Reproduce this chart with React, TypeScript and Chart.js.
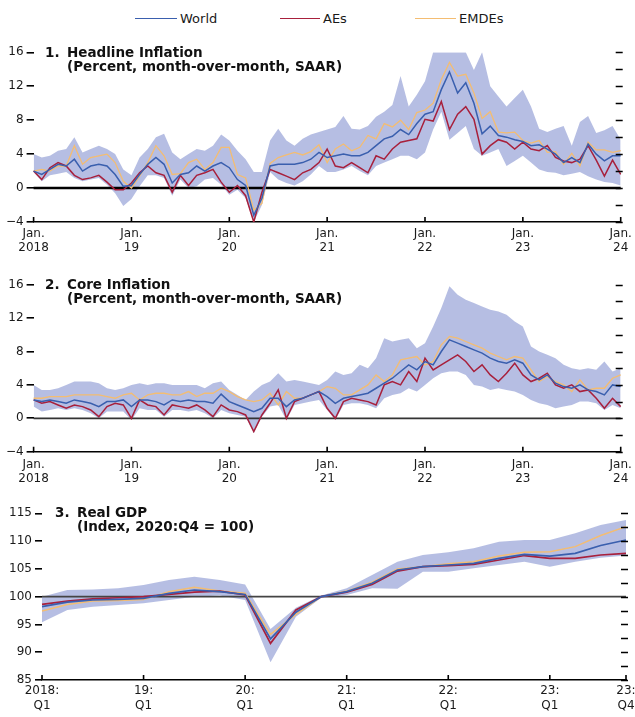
import React, { useEffect, useRef } from "react";
import { Chart, registerables } from "chart.js";
Chart.register(...registerables);

const FONT = "'DejaVu Sans', 'Liberation Sans', sans-serif";
const WORLD_COLOR = "#3a5fae";
const AES_COLOR = "#a8203c";
const EMDES_COLOR = "#f4bd72";
const BAND_COLOR = "rgba(110,125,200,0.5)";

// ---------- categories ----------
const YEARS = [2018, 2019, 2020, 2021, 2022, 2023];
const MONTH_NAMES = ["Jan", "Feb", "Mar", "Apr", "May", "Jun", "Jul", "Aug", "Sep", "Oct", "Nov", "Dec"];
const MONTHS: string[] = [...YEARS.flatMap((y) => MONTH_NAMES.map((m) => `${m} ${y}`)), "Jan 2024"];
const QUARTERS: string[] = YEARS.flatMap((y) => ["Q1", "Q2", "Q3", "Q4"].map((q) => `${y} ${q}`));

// tick labels
const MONTH_TICK_INDEX = [0, 12, 24, 36, 48, 60, 72];
const MONTH_TICK_TEXT = [["Jan.", "2018"], ["Jan.", "19"], ["Jan.", "20"], ["Jan.", "21"], ["Jan.", "22"], ["Jan.", "23"], ["Jan.", "24"]];
const QTR_TICK_INDEX = [0, 4, 8, 12, 16, 20, 23];
const QTR_TICK_TEXT = [["2018:", "Q1"], ["19:", "Q1"], ["20:", "Q1"], ["21:", "Q1"], ["22:", "Q1"], ["23:", "Q1"], ["23:", "Q4"]];

// ---------- 1. Headline inflation (monthly, Jan 2018 - Jan 2024) ----------
const HEADLINE_WORLD = [
  2.0, 1.6, 2.2, 2.8, 2.6, 3.4, 2.0, 2.6, 2.8, 2.6, 1.6, 0.2,
  0.3, 1.6, 2.8, 3.6, 2.8, 0.6, 1.6, 1.8, 2.6, 2.0, 2.6, 3.0,
  2.4, 1.0, 0.3, -3.2, -1.2, 2.6, 2.8, 2.8, 2.8, 3.0, 3.4, 4.2,
  3.6, 3.8, 4.0, 3.8, 3.8, 4.2, 5.0, 5.8, 6.1, 6.9, 6.3, 7.6,
  8.7, 9.0, 11.6, 13.7, 11.2, 12.4, 10.0, 6.4, 7.3, 6.2, 6.0, 5.7,
  5.5, 5.0, 5.1, 4.6, 4.0, 3.0, 3.6, 3.0, 5.2, 4.0, 3.2, 3.8,
  3.8,
];
const HEADLINE_AES = [
  2.0, 1.0, 2.4, 3.0, 2.6, 1.5, 1.0, 1.2, 1.5, 0.7, -0.2, -0.2,
  0.6, 1.8, 2.6, 1.8, 1.5, -0.5, 1.5, 0.3, 1.5, 1.8, 2.2, 0.7,
  -0.5, 0.3, -0.9, -4.0, -0.5, 2.2, 1.8, 1.4, 1.0, 1.8, 2.2, 3.0,
  4.6, 2.6, 2.4, 3.0, 2.4, 1.8, 3.8, 3.4, 4.6, 5.4, 5.6, 5.8,
  8.1, 7.9, 10.2, 6.9, 8.7, 9.6, 8.1, 4.0, 5.0, 5.7, 5.4, 4.6,
  5.4, 4.6, 4.4, 5.0, 3.6, 3.2, 3.0, 3.4, 5.0, 3.3, 1.4, 3.3,
  1.6,
];
const HEADLINE_EMDES = [
  2.0, 2.2, 2.0, 2.6, 2.6, 5.0, 2.8, 3.6, 3.8, 4.0, 3.0, 0.8,
  0.0, 1.4, 3.0, 5.0, 3.8, 1.6, 1.7, 3.0, 3.4, 2.2, 3.0, 4.8,
  4.8, 1.6, 1.2, -2.6, -1.8, 2.9, 3.6, 3.9, 4.2, 3.9, 4.3, 5.1,
  3.0, 4.6, 5.2, 4.4, 4.8, 6.2, 5.8, 7.6, 7.2, 8.0, 6.9, 8.9,
  9.2, 10.0, 12.8, 14.8, 13.2, 13.4, 11.2, 8.2, 9.0, 6.6, 6.5, 6.6,
  5.6, 5.3, 5.6, 4.2, 4.3, 2.8, 4.1, 2.6, 5.4, 4.5, 4.5, 4.2,
  4.4,
];
const HEADLINE_HIGH = [
  4.0, 3.6, 3.8, 4.4, 4.6, 6.0, 4.2, 4.6, 5.0, 4.6, 4.0, 2.2,
  1.5, 3.6, 4.6, 6.0, 6.4, 4.2, 3.4, 4.0, 4.6, 4.4, 5.0, 6.3,
  5.6, 4.4, 3.4, 1.9, 1.9, 5.6, 7.0, 5.6, 5.0, 5.8, 6.3, 6.6,
  6.9, 7.2, 8.5, 7.0, 6.9, 7.3, 8.4, 9.0, 9.8, 13.2, 9.6, 11.0,
  12.6, 16, 16, 16, 16, 16, 13.9, 16, 12.0, 10.8, 9.6, 10.6,
  11.6, 9.6, 7.0, 6.6, 7.0, 7.3, 5.0, 7.8, 8.5, 6.5, 6.8, 7.3,
  5.7,
];
const HEADLINE_LOW = [
  1.9, 0.8, 1.5, 1.7, 1.9, 1.2, 0.8, 1.0, 1.2, 0.4, -0.6, -2.1,
  -1.3, 0.2, 1.5, 1.5, 1.2, -0.9, 1.0, 0.0, 0.2, 1.0, 1.2, 0.4,
  -0.8, -0.2, -1.2, -4.0, -2.0, 1.9, 1.0, 0.6, 0.3, 0.8, 1.6, 2.6,
  1.9, 1.9, 2.2, 2.6, 2.0, 1.5, 2.6, 3.0, 3.4, 3.8, 3.8, 3.4,
  4.2, 6.9, 9.0, 5.7, 6.5, 7.3, 4.6, 3.8, 4.2, 4.6, 2.6, 3.2,
  3.8, 3.0, 2.2, 1.9, 1.8, 1.5, 1.7, 1.9, 1.4, 1.0, 0.7, 0.6,
  0.3,
];

// ---------- 2. Core inflation ----------
const CORE_WORLD = [
  2.2, 2.0, 2.2, 2.0, 1.8, 2.2, 2.0, 1.8, 1.4, 2.0, 2.0, 2.2,
  1.4, 2.2, 2.2, 2.0, 1.6, 2.2, 2.0, 2.2, 2.0, 2.0, 1.8, 2.9,
  2.0, 1.6, 1.2, 0.8, 1.2, 2.4, 2.4, 1.4, 2.2, 2.4, 2.8, 3.2,
  2.6, 1.8, 2.4, 2.6, 2.8, 3.0, 3.6, 4.2, 4.8, 5.6, 6.4, 5.8,
  6.8, 6.4, 8.0, 9.4, 9.0, 8.6, 8.2, 7.8, 7.2, 6.8, 6.6, 7.0,
  6.6, 5.2, 4.6, 5.2, 4.2, 3.8, 3.6, 4.0, 3.4, 3.2, 2.8, 4.0,
  3.8,
];
const CORE_AES = [
  2.2, 1.8, 2.0, 1.6, 1.2, 1.6, 1.4, 1.0, 0.2, 1.4, 1.8, 1.6,
  0.0, 2.2, 1.6, 1.4, 0.4, 1.6, 1.4, 1.2, 1.6, 1.0, 0.2, 1.6,
  1.0, 0.8, 0.4, -1.6, 0.4, 1.8, 3.4, 0.0, 2.0, 2.4, 2.8, 3.2,
  1.2, 0.0, 2.0, 2.4, 2.2, 2.0, 1.6, 4.0, 4.4, 4.0, 5.6, 4.4,
  7.2, 5.8, 6.4, 7.0, 7.6, 6.8, 5.6, 6.4, 5.2, 4.4, 5.4, 6.6,
  5.2, 4.4, 4.8, 5.4, 4.0, 3.6, 4.0, 3.2, 3.4, 2.4, 1.2, 2.4,
  1.4,
];
const CORE_EMDES = [
  2.4, 2.4, 2.6, 2.6, 2.6, 2.8, 2.8, 2.8, 2.8, 2.6, 2.4, 2.8,
  3.0, 2.2, 2.8, 3.0, 3.0, 2.8, 2.8, 3.2, 2.6, 3.0, 3.0, 3.6,
  3.2, 2.6, 2.2, 2.0, 2.2, 3.0, 1.6, 3.2, 2.4, 2.4, 2.8, 3.2,
  3.8, 3.6, 2.8, 2.8, 3.4, 4.0, 5.2, 4.4, 5.2, 7.0, 7.2, 7.4,
  6.4, 6.8, 8.8, 9.8, 9.6, 9.2, 8.8, 8.4, 7.8, 7.4, 7.0, 7.4,
  7.2, 5.8, 4.4, 5.0, 4.4, 4.0, 3.2, 4.6, 3.4, 3.6, 3.6, 4.8,
  5.2,
];
const CORE_HIGH = [
  4.0, 3.4, 3.4, 3.6, 4.0, 4.4, 4.4, 4.4, 4.2, 3.6, 3.4, 3.6,
  4.0, 4.2, 4.0, 4.2, 4.2, 4.0, 4.0, 4.0, 4.0, 3.6, 4.2, 4.4,
  3.4, 2.8, 2.2, 3.2, 4.0, 4.4, 5.4, 4.4, 4.6, 4.4, 4.2, 4.0,
  4.6, 5.6, 5.2, 5.4, 6.4, 6.0, 7.2, 9.6, 9.2, 9.4, 9.6, 8.4,
  9.0, 11.0, 13.2, 15.8, 14.8, 14.2, 13.8, 13.4, 13.0, 12.8, 12.4, 11.6,
  11.0, 8.6, 8.0, 7.6, 7.2, 6.4, 6.0, 5.8, 6.0, 5.8, 6.8, 5.6,
  6.0,
];
const CORE_LOW = [
  1.4, 0.8, 1.0, 1.2, 1.0, 1.2, 1.0, 0.6, 0.0, 0.8, 0.8, 0.8,
  -0.2, 1.2, 1.0, 1.0, 0.2, 1.0, 1.0, 0.8, 1.0, 0.6, 0.0, 1.0,
  0.6, 0.4, 0.2, -1.8, 0.2, 1.4, 1.6, -0.2, 1.6, 1.8, 2.0, 2.2,
  1.0, -0.2, 1.6, 1.8, 1.8, 1.6, 1.2, 2.4, 2.8, 3.0, 3.6, 3.2,
  4.0, 4.8, 5.4, 5.6, 5.6, 5.2, 4.0, 3.8, 3.4, 3.6, 3.4, 3.2,
  2.8, 2.2, 1.8, 1.6, 1.2, 1.4, 1.6, 2.0, 2.0, 1.8, 1.0, 1.6,
  1.2,
];

// ---------- 3. Real GDP (quarterly, 2018:Q1 - 2023:Q4) ----------
const GDP_WORLD = [98.2, 99.0, 99.4, 99.5, 99.7, 100.6, 101.2, 100.9, 100.4, 92.4, 97.2, 100.0, 100.9, 102.4, 104.8, 105.4, 105.7, 106.0, 106.9, 107.6, 107.3, 107.8, 109.2, 110.2];
const GDP_AES = [98.6, 99.2, 99.6, 99.8, 100.0, 100.4, 100.8, 101.0, 100.3, 91.6, 97.6, 100.0, 100.8, 102.2, 104.6, 105.4, 105.6, 105.8, 106.6, 107.4, 106.9, 106.9, 107.5, 107.8];
const GDP_EMDES = [97.4, 98.6, 99.2, 99.3, 99.5, 100.9, 101.7, 101.0, 100.6, 93.2, 96.8, 100.0, 101.0, 102.6, 105.0, 105.4, 105.9, 106.3, 107.3, 108.0, 108.1, 109.0, 111.0, 112.6];
const GDP_HIGH = [100.0, 101.2, 101.3, 101.5, 102.1, 103.0, 103.6, 103.0, 102.2, 94.2, 98.0, 100.2, 101.5, 103.9, 106.3, 107.5, 108.0, 108.7, 109.9, 110.2, 110.2, 111.4, 112.9, 113.8];
const GDP_LOW = [95.4, 97.6, 98.2, 98.5, 98.8, 99.4, 100.0, 100.2, 99.4, 88.2, 96.4, 99.8, 100.3, 101.5, 101.4, 104.5, 104.5, 105.1, 105.7, 106.3, 105.4, 106.3, 107.0, 107.4];

type PanelSpec = {
  labels: string[];
  world: number[];
  aes: number[];
  emdes: number[];
  high: number[];
  low: number[];
  yMin: number;
  yMax: number;
  yStep: number;
  labelEvery: number;
  tickIdx: number[];
  tickText: string[][];
  padTop: number;
  axisH: number;
  leftW: number;
  rightPad: number;
  labelPad: number;
  lineHeight: number;
  refValue: number;
  refWidth: number;
  refColor: string;
  lineWidth: number;
};

function makeConfig(p: PanelSpec): any {
  const decor = {
    id: "decor",
    afterDatasetDraw(chart: any, args: any) {
      if (args.index !== 3) return;
      const { ctx, chartArea } = chart;
      const y = chart.scales.y.getPixelForValue(p.refValue);
      ctx.save();
      ctx.strokeStyle = p.refColor;
      ctx.lineWidth = p.refWidth;
      ctx.beginPath();
      ctx.moveTo(chartArea.left, y);
      ctx.lineTo(chartArea.right, y);
      ctx.stroke();
      ctx.restore();
    },
    afterDraw(chart: any) {
      const { ctx, chartArea } = chart;
      const xs = chart.scales.x;
      const ys = chart.scales.y;
      ctx.save();
      ctx.strokeStyle = "#000";
      ctx.lineWidth = 1.6;
      ctx.beginPath();
      p.tickIdx.forEach((i) => {
        const x = xs.getPixelForValue(i);
        ctx.moveTo(x, chartArea.bottom);
        ctx.lineTo(x, chartArea.bottom - 5);
      });
      for (let v = p.yMin; v <= p.yMax + 1e-9; v += p.yStep) {
        const y = Math.round(ys.getPixelForValue(v)) + 0.5;
        ctx.moveTo(chartArea.right - 5, y);
        ctx.lineTo(chartArea.right + 2, y);
      }
      ctx.stroke();
      ctx.restore();
    },
  };

  const line = (label: string, data: number[], color: string, order: number, width: number) => ({
    label,
    data,
    borderColor: color,
    borderWidth: width,
    pointRadius: 0,
    fill: false,
    tension: 0,
    order,
  });

  return {
    type: "line",
    data: {
      labels: p.labels,
      datasets: [
        line("World", p.world, WORLD_COLOR, 0, p.lineWidth),
        line("AEs", p.aes, AES_COLOR, 1, p.lineWidth),
        line("EMDEs", p.emdes, EMDES_COLOR, 2, p.lineWidth - 0.2),
        { label: "Range high", data: p.high, borderWidth: 0, pointRadius: 0, fill: "+1", backgroundColor: BAND_COLOR, order: 3 },
        { label: "Range low", data: p.low, borderWidth: 0, pointRadius: 0, fill: false, order: 4 },
      ],
    },
    options: {
      responsive: false,
      animation: false,
      events: [],
      layout: { padding: { top: p.padTop, right: p.rightPad, left: 0, bottom: 0 } },
      plugins: { legend: { display: false }, tooltip: { enabled: false }, title: { display: false } },
      scales: {
        x: {
          type: "category",
          offset: false,
          grid: { display: false, drawTicks: false },
          border: { display: true, color: "#000", width: 1.6 },
          ticks: {
            autoSkip: false,
            maxRotation: 0,
            minRotation: 0,
            padding: p.labelPad,
            color: "#1a1a1a",
            font: { family: FONT, size: 12, lineHeight: p.lineHeight },
            callback: (_v: any, i: number) => {
              const k = p.tickIdx.indexOf(i);
              return k >= 0 ? p.tickText[k] : "";
            },
          },
          afterFit: (s: any) => {
            s.height = p.axisH;
            s.paddingLeft = 0;
            s.paddingRight = 0;
          },
        },
        y: {
          position: "left",
          min: p.yMin,
          max: p.yMax,
          grid: { display: true, drawOnChartArea: false, drawTicks: true, tickLength: 7, color: "#000", lineWidth: 1.6 },
          border: { display: false },
          ticks: {
            stepSize: p.yStep,
            padding: 3,
            color: "#1a1a1a",
            font: { family: FONT, size: 12 },
            callback: (v: number) => {
              const r = Math.round(v * 10) / 10;
              if (Math.abs(r % p.labelEvery) > 1e-6) return "";
              return r < 0 ? "\u2212" + Math.abs(r) : String(r);
            },
          },
          afterFit: (s: any) => {
            s.width = p.leftW;
            s.paddingTop = 0;
            s.paddingBottom = 0;
          },
        },
      },
    },
    plugins: [decor],
  };
}

const PANEL1: PanelSpec = {
  labels: MONTHS, world: HEADLINE_WORLD, aes: HEADLINE_AES, emdes: HEADLINE_EMDES, high: HEADLINE_HIGH, low: HEADLINE_LOW,
  yMin: -4, yMax: 16, yStep: 2, labelEvery: 4, tickIdx: MONTH_TICK_INDEX, tickText: MONTH_TICK_TEXT,
  padTop: 24.3, axisH: 36, leftW: 33.6, rightPad: 14.3, labelPad: 5, lineHeight: 1.15,
  refValue: 0, refWidth: 2.6, refColor: "#000", lineWidth: 1.5,
};
const PANEL2: PanelSpec = {
  labels: MONTHS, world: CORE_WORLD, aes: CORE_AES, emdes: CORE_EMDES, high: CORE_HIGH, low: CORE_LOW,
  yMin: -4, yMax: 16, yStep: 2, labelEvery: 4, tickIdx: MONTH_TICK_INDEX, tickText: MONTH_TICK_TEXT,
  padTop: 26.7, axisH: 36.3, leftW: 33.6, rightPad: 14.3, labelPad: 6, lineHeight: 1.15,
  refValue: 0, refWidth: 1.8, refColor: "#333", lineWidth: 1.5,
};
const PANEL3: PanelSpec = {
  labels: QUARTERS, world: GDP_WORLD, aes: GDP_AES, emdes: GDP_EMDES, high: GDP_HIGH, low: GDP_LOW,
  yMin: 85, yMax: 115, yStep: 2.5, labelEvery: 5, tickIdx: QTR_TICK_INDEX, tickText: QTR_TICK_TEXT,
  padTop: 25.3, axisH: 37, leftW: 42, rightPad: 9, labelPad: 3, lineHeight: 1.25,
  refValue: 100, refWidth: 1.6, refColor: "#444", lineWidth: 1.7,
};

function Panel({ top, height, spec }: { top: number; height: number; spec: PanelSpec }) {
  const ref = useRef<HTMLCanvasElement>(null);
  useEffect(() => {
    const chart = new Chart(ref.current as HTMLCanvasElement, makeConfig(spec));
    return () => chart.destroy();
  }, [spec]);
  return (
    <div style={{ position: "absolute", left: 0, top, width: 635, height }}>
      <canvas ref={ref} width={635} height={height} style={{ display: "block" }} />
    </div>
  );
}

const titleStyle: React.CSSProperties = {
  position: "absolute",
  fontFamily: FONT,
  fontWeight: "bold",
  fontSize: 13.5,
  color: "#111",
  whiteSpace: "nowrap",
  lineHeight: "16px",
  height: 16,
};

function Title({ num, line1, line2, numX, textX, y }: { num: string; line1: string; line2: string; numX: number; textX: number; y: number }) {
  return (
    <>
      <div style={{ ...titleStyle, left: numX, top: y - 8 }}>{num}</div>
      <div style={{ ...titleStyle, left: textX, top: y - 8 }}>{line1}</div>
      <div style={{ ...titleStyle, left: textX, top: y + 5.5 }}>{line2}</div>
    </>
  );
}

function LegendItem({ x, textX, label, color }: { x: number; textX: number; label: string; color: string }) {
  return (
    <>
      <div style={{ position: "absolute", left: x, top: 18, width: textX - x - 3, height: 0, borderTop: `1.6px solid ${color}` }} />
      <div style={{ position: "absolute", left: textX, top: 11, height: 16, lineHeight: "16px", fontFamily: FONT, fontSize: 13, color: "#1a1a1a", whiteSpace: "nowrap" }}>{label}</div>
    </>
  );
}

export default function App() {
  return (
    <div style={{ position: "absolute", left: 0, top: 0, width: 635, height: 717, background: "#fff", overflow: "hidden" }}>
      <LegendItem x={135} textX={180} label="World" color={WORLD_COLOR} />
      <LegendItem x={280} textX={323} label="AEs" color={AES_COLOR} />
      <LegendItem x={415} textX={459} label="EMDEs" color={EMDES_COLOR} />
      <Panel top={28} height={230} spec={PANEL1} />
      <Panel top={258} height={230} spec={PANEL2} />
      <Panel top={488} height={229} spec={PANEL3} />
      <Title num="1." line1="Headline Inflation" line2="(Percent, month-over-month, SAAR)" numX={45} textX={67} y={52} />
      <Title num="2." line1="Core Inflation" line2="(Percent, month-over-month, SAAR)" numX={45} textX={67} y={284} />
      <Title num="3." line1="Real GDP" line2="(Index, 2020:Q4 = 100)" numX={55} textX={77} y={512} />
    </div>
  );
}
